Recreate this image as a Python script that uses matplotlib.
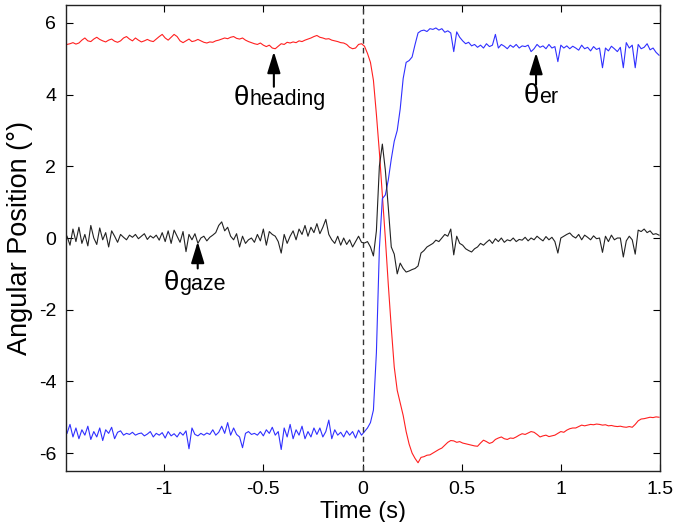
import numpy as np
import matplotlib
matplotlib.use("Agg")
import matplotlib.pyplot as plt
from matplotlib import font_manager

# sampling grid of the recording (s)
t = np.round(-1.49 + 0.015 * np.arange(200), 3)

# heading angle (deg)
heading = [
    5.40, 5.42, 5.45, 5.41, 5.44, 5.52, 5.58, 5.50, 5.48, 5.55,
    5.60, 5.54, 5.50, 5.47, 5.52, 5.55, 5.49, 5.46, 5.50, 5.58,
    5.62, 5.55, 5.50, 5.58, 5.52, 5.47, 5.50, 5.54, 5.50, 5.48,
    5.55, 5.62, 5.68, 5.58, 5.52, 5.60, 5.68, 5.62, 5.50, 5.45,
    5.50, 5.55, 5.48, 5.50, 5.54, 5.50, 5.46, 5.44, 5.47, 5.46,
    5.50, 5.52, 5.55, 5.58, 5.56, 5.60, 5.62, 5.57, 5.55, 5.58,
    5.52, 5.48, 5.45, 5.42, 5.40, 5.44, 5.38, 5.34, 5.38, 5.30,
    5.28, 5.35, 5.42, 5.40, 5.46, 5.44, 5.47, 5.45, 5.50, 5.48,
    5.52, 5.55, 5.58, 5.62, 5.65, 5.60, 5.58, 5.55, 5.56, 5.52,
    5.50, 5.48, 5.45, 5.44, 5.40, 5.32, 5.28, 5.30, 5.40, 5.42,
    5.35, 5.15, 4.90, 4.40, 3.45, 2.40, 1.20, 0.00, -1.30, -2.50,
    -3.60, -4.25, -4.60, -4.95, -5.40, -5.75, -6.00, -6.15, -6.27, -6.12,
    -6.10, -6.06, -6.05, -6.00, -5.95, -5.90, -5.86, -5.78, -5.70, -5.65,
    -5.66, -5.70, -5.68, -5.72, -5.74, -5.76, -5.78, -5.80, -5.81, -5.72,
    -5.64, -5.68, -5.73, -5.70, -5.62, -5.58, -5.55, -5.60, -5.62, -5.58,
    -5.59, -5.55, -5.50, -5.46, -5.48, -5.44, -5.40, -5.42, -5.48, -5.55,
    -5.52, -5.50, -5.54, -5.52, -5.50, -5.45, -5.40, -5.42, -5.36, -5.32,
    -5.30, -5.30, -5.26, -5.22, -5.24, -5.22, -5.20, -5.21, -5.19, -5.20,
    -5.22, -5.21, -5.24, -5.23, -5.25, -5.26, -5.25, -5.27, -5.28, -5.26,
    -5.28, -5.20, -5.10, -5.05, -5.04, -5.02, -5.00, -5.01, -4.99, -5.00,
]

# eye-in-head angle (deg), blue trace
er = [
    -5.45, -5.20, -5.55, -5.30, -5.60, -5.35, -5.50, -5.25, -5.62, -5.40,
    -5.55, -5.30, -5.65, -5.35, -5.45, -5.28, -5.60, -5.42, -5.38, -5.50,
    -5.45, -5.48, -5.42, -5.50, -5.46, -5.44, -5.52, -5.47, -5.40, -5.55,
    -5.45, -5.50, -5.43, -5.58, -5.40, -5.52, -5.46, -5.55, -5.42, -5.50,
    -5.38, -5.88, -5.30, -5.48, -5.52, -5.45, -5.50, -5.44, -5.48, -5.35,
    -5.50, -5.42, -5.25, -5.45, -5.15, -5.50, -5.30, -5.48, -5.55, -5.85,
    -5.45, -5.40, -5.48, -5.45, -5.50, -5.40, -5.52, -5.35, -5.45, -5.28,
    -5.50, -5.40, -5.90, -5.30, -5.55, -5.20, -5.60, -5.35, -5.50, -5.25,
    -5.60, -5.40, -5.55, -5.30, -5.48, -5.30, -5.55, -5.40, -5.08, -5.60,
    -5.35, -5.50, -5.42, -5.55, -5.38, -5.50, -5.40, -5.58, -5.36, -5.50,
    -5.40, -5.30, -5.15, -4.80, -3.20, -0.30, 1.10, 1.20, 1.62, 2.20,
    2.70, 3.00, 3.60, 4.45, 4.90, 4.95, 5.05, 5.40, 5.72, 5.78,
    5.80, 5.76, 5.84, 5.82, 5.86, 5.80, 5.84, 5.74, 5.78, 5.72,
    5.20, 5.75, 5.60, 5.50, 5.42, 5.46, 5.36, 5.40, 5.32, 5.38,
    5.30, 5.42, 5.34, 5.38, 5.68, 5.30, 5.40, 5.35, 5.28, 5.38,
    5.32, 5.40, 5.30, 5.36, 5.34, 5.38, 5.20, 5.28, 5.40, 5.32,
    5.36, 5.28, 5.40, 5.30, 5.34, 4.92, 5.38, 5.30, 5.36, 5.28,
    5.35, 5.30, 5.24, 5.38, 5.28, 5.32, 5.22, 5.34, 5.26, 5.30,
    4.75, 5.30, 5.22, 5.35, 5.28, 5.20, 5.32, 4.75, 5.45, 5.30,
    5.38, 4.75, 5.40, 5.28, 5.32, 5.42, 5.25, 5.30, 5.18, 5.10,
]

# gaze angle (deg), black trace
gaze = [
    0.05, -0.20, 0.25, -0.10, 0.30, -0.15, 0.10, -0.22, 0.35, 0.00,
    -0.18, 0.28, -0.05, 0.15, -0.25, 0.20, 0.05, -0.12, 0.10, 0.02,
    -0.05, 0.08, 0.02, 0.10, -0.02, 0.05, 0.12, -0.04, 0.06, 0.00,
    0.08, -0.06, 0.15, -0.10, 0.20, -0.15, 0.22, 0.05, -0.12, 0.18,
    -0.38, 0.10, -0.05, 0.12, -0.15, 0.00, 0.05, -0.08, 0.02, 0.08,
    0.15, 0.35, 0.45, 0.20, 0.30, 0.05, -0.05, 0.12, -0.25, 0.05,
    -0.15, -0.05, 0.00, -0.12, 0.10, -0.08, 0.25, -0.20, 0.18, 0.10,
    0.05, -0.10, -0.42, 0.10, -0.15, 0.05, 0.20, -0.05, 0.25, 0.10,
    0.35, 0.05, 0.30, 0.15, 0.40, 0.12, 0.30, 0.52, 0.10, -0.05,
    -0.15, 0.05, -0.20, 0.00, -0.18, -0.05, -0.25, -0.10, 0.05, -0.12,
    -0.14, -0.10, -0.25, -0.50, 0.20, 2.00, 2.62, 1.90, 0.85, -0.25,
    -0.45, -1.00, -0.70, -0.85, -0.95, -0.92, -0.88, -0.85, -0.78, -0.42,
    -0.35, -0.25, -0.20, -0.15, -0.06, -0.10, 0.00, 0.10, 0.05, 0.25,
    -0.47, 0.05, -0.15, -0.20, -0.30, -0.35, -0.39, -0.30, -0.25, -0.15,
    -0.20, -0.12, -0.05, -0.15, -0.02, -0.10, 0.00, -0.12, -0.05, -0.08,
    0.00, -0.10, -0.04, -0.06, 0.02, -0.08, 0.00, -0.05, 0.05, -0.02,
    -0.08, 0.04, -0.05, 0.02, -0.10, -0.42, 0.00, 0.05, 0.10, 0.14,
    0.05, 0.00, 0.10, -0.05, 0.08, 0.02, -0.05, 0.06, -0.02, 0.00,
    -0.40, 0.05, -0.10, 0.08, -0.05, 0.00, 0.00, -0.53, -0.08, 0.05,
    -0.05, -0.45, 0.22, 0.18, 0.25, 0.15, 0.20, 0.10, 0.12, 0.08,
]

# labels with arrow: subscript, arrow tip (t, deg), arrow tail (deg), text anchor
labels = ["heading", "er", "gaze"]
tips = [(-0.447, 5.20), (0.875, 5.17), (-0.831, -0.10)]
tails = [4.22, 4.28, -0.85]
text_at = [(-0.648, 3.71), (0.811, 3.76), (-1.003, -1.45)]

xticks = [-1, -0.5, 0, 0.5, 1, 1.5]
xticklabels = ["-1", "-0.5", "0", "0.5", "1", "1.5"]
yticks = [-6, -4, -2, 0, 2, 4, 6]

names = {f.name for f in font_manager.fontManager.ttflist}
narrow = "Liberation Sans Narrow" if "Liberation Sans Narrow" in names else "Liberation Sans"
plt.rcParams["font.family"] = [narrow, "DejaVu Sans"]
plt.rcParams["axes.unicode_minus"] = False

fig = plt.figure(figsize=(6.87, 5.22), dpi=100)
ax = fig.add_axes([0.0961, 0.0977, 0.8646, 0.8927])

ax.plot(t, heading, color="#ff2020", lw=0.8)
ax.plot(t, er, color="#3030ff", lw=0.8)
ax.plot(t, gaze, color="#222222", lw=0.8)
ax.axvline(0, color="#333333", lw=1.0, ls=(0, (4, 3)))

fig.canvas.draw()
for lab, tip, tail, pos in zip(labels, tips, tails, text_at):
    ax.annotate("", xy=tip, xytext=(tip[0], tail),
                arrowprops=dict(arrowstyle="-|>,head_length=0.65,head_width=0.2",
                                mutation_scale=20, lw=1.5, color="k",
                                shrinkA=0, shrinkB=0))
    th = ax.text(pos[0], pos[1], "\u03b8", fontsize=20, family="Liberation Sans",
                 ha="left", va="baseline")
    # subscript starts where the theta ends
    bb = th.get_window_extent(fig.canvas.get_renderer())
    x_end = ax.transData.inverted().transform((bb.x1 - 1, bb.y0))[0]
    ax.text(x_end, pos[1], lab, fontsize=15.5, family="Liberation Sans",
            ha="left", va="baseline")

ax.set_xlim(-1.495, 1.5)
ax.set_ylim(-6.5, 6.5)
ax.set_xticks(xticks)
ax.set_xticklabels(xticklabels)
ax.set_yticks(yticks)
ax.tick_params(direction="in", length=5, width=0.8, top=True, right=True,
               labelsize=14, pad=7)
for sp in ax.spines.values():
    sp.set_linewidth(1.0)
    sp.set_color("#222222")

ax.set_xlabel("Time (s)", fontsize=17, labelpad=2)
ax.set_ylabel("Angular Position (\u00b0)", fontsize=19.5, family="Liberation Sans",
              labelpad=4)

fig.savefig("out.png", dpi=100)
